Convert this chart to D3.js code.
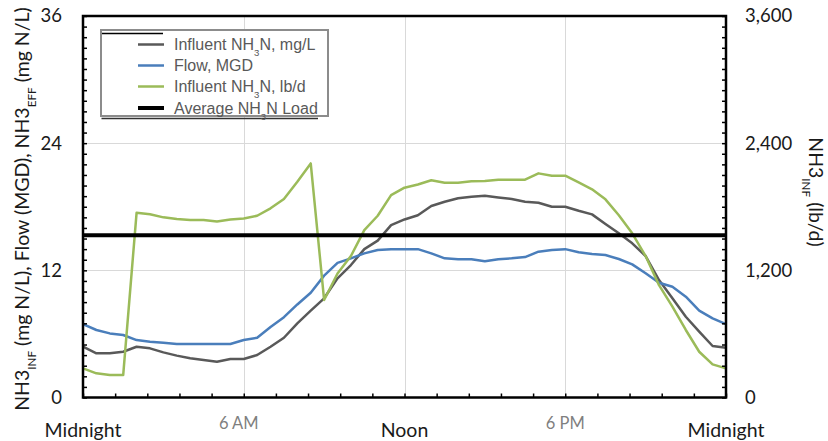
<!DOCTYPE html>
<html>
<head>
<meta charset="utf-8">
<script src="https://cdn.jsdelivr.net/npm/d3@7"></script>
<style>
  html, body { margin: 0; padding: 0; background: #fff; }
  svg { display: block; }
</style>
</head>
<body>
<svg id="chart" width="828" height="441"></svg>
<script>
// Time of day, hours after midnight (half-hour readings)
const hours = [0, 0.5, 1, 1.5, 2, 2.5, 3, 3.5, 4, 4.5, 5, 5.5, 6, 6.5, 7, 7.5, 8, 8.5, 9, 9.5,
  10, 10.5, 11, 11.5, 12, 12.5, 13, 13.5, 14, 14.5, 15, 15.5, 16, 16.5, 17, 17.5, 18, 18.5, 19, 19.5,
  20, 20.5, 21, 21.5, 22, 22.5, 23, 23.5, 24];

// Influent NH3-N concentration, mg/L (left axis)
const nh3Conc = [4.79, 4.17, 4.17, 4.32, 4.79, 4.64, 4.26, 3.95, 3.70, 3.54, 3.38, 3.63, 3.63, 4.01, 4.79, 5.64, 7.0, 8.19, 9.36, 11.25,
  12.5, 14.0, 14.8, 16.27, 16.8, 17.2, 18.07, 18.47, 18.8, 18.95, 19.04, 18.88, 18.73, 18.47, 18.38, 18.0, 18.0, 17.62, 17.28, 16.37,
  15.49, 14.55, 13.35, 11.08, 9.36, 7.62, 6.21, 4.86, 4.7];

// Flow, MGD (left axis)
const flow = [6.93, 6.37, 6.05, 5.90, 5.42, 5.27, 5.17, 5.05, 5.05, 5.05, 5.05, 5.05, 5.42, 5.64, 6.65, 7.58, 8.78, 9.89, 11.5, 12.7,
  13.13, 13.6, 13.92, 14.0, 14.0, 14.0, 13.6, 13.13, 13.04, 13.04, 12.85, 13.04, 13.13, 13.25, 13.76, 13.92, 14.0, 13.7, 13.54, 13.44,
  13.07, 12.56, 11.72, 10.83, 10.45, 9.51, 8.19, 7.47, 6.93];

// Influent NH3-N load, lb/d (right axis)
const nh3Load = [275, 228, 212, 212, 1743, 1730, 1700, 1684, 1675, 1675, 1660, 1680, 1690, 1715, 1785, 1873, 2036, 2209, 920, 1170,
  1335, 1580, 1715, 1910, 1980, 2010, 2050, 2027, 2027, 2040, 2043, 2055, 2055, 2055, 2115, 2093, 2093, 2030, 1964, 1870,
  1720, 1549, 1335, 1060, 857, 637, 432, 313, 275];

// Average NH3-N load, lb/d (right axis)
const avgLoad = 1530;

// Axis ticks
const leftTicks = [0, 12, 24, 36];
const rightTicks = [0, 1200, 2400, 3600];
const timeTicks = [0, 6, 12, 18, 24];
const timeLabels = ["Midnight", "6 AM", "Noon", "6 PM", "Midnight"];

const legendItems = [
  { parts: [["Influent NH"], ["3", "sub"], ["N, mg/L"]], color: "#595959", width: 2.5 },
  { parts: [["Flow, MGD"]], color: "#4a7ebb", width: 2.5 },
  { parts: [["Influent NH"], ["3", "sub"], ["N, lb/d"]], color: "#9bbb59", width: 2.5 },
  { parts: [["Average NH"], ["3", "sub"], ["N Load"]], color: "#000000", width: 4 }
];

const svg = d3.select("#chart");
const plot = { left: 83, right: 726, top: 16, bottom: 397.5 };
const axisFont = "Lato, 'Open Sans', sans-serif";

const x = d3.scaleLinear().domain([0, 24]).range([plot.left, plot.right]);
const yL = d3.scaleLinear().domain([0, 36]).range([plot.bottom, plot.top]);
const yR = d3.scaleLinear().domain([0, 3600]).range([plot.bottom, plot.top]);

// Gridlines
const grid = svg.append("g").attr("stroke", "#d9d9d9").attr("stroke-width", 1);
grid.selectAll(".gy").data(leftTicks.slice(1, -1)).join("line")
  .attr("x1", plot.left).attr("x2", plot.right)
  .attr("y1", d => Math.round(yL(d)) + 0.5).attr("y2", d => Math.round(yL(d)) + 0.5);
grid.selectAll(".gx").data(timeTicks.slice(1, -1)).join("line")
  .attr("y1", plot.top).attr("y2", plot.bottom)
  .attr("x1", d => Math.round(x(d)) + 0.5).attr("x2", d => Math.round(x(d)) + 0.5);

// Series lines
const lineL = d3.line().x((d, i) => x(hours[i])).y(d => yL(d));
const lineR = d3.line().x((d, i) => x(hours[i])).y(d => yR(d));

svg.append("path").datum(nh3Conc).attr("d", lineL)
  .attr("fill", "none").attr("stroke", "#595959").attr("stroke-width", 2.5).attr("stroke-linejoin", "round");
svg.append("path").datum(flow).attr("d", lineL)
  .attr("fill", "none").attr("stroke", "#4a7ebb").attr("stroke-width", 2.5).attr("stroke-linejoin", "round");
svg.append("path").datum(nh3Load).attr("d", lineR)
  .attr("fill", "none").attr("stroke", "#9bbb59").attr("stroke-width", 2.5).attr("stroke-linejoin", "round");

// Average load line
svg.append("line")
  .attr("x1", plot.left).attr("x2", plot.right)
  .attr("y1", yR(avgLoad)).attr("y2", yR(avgLoad))
  .attr("stroke", "#000").attr("stroke-width", 4);

// Axes with inside tick marks
const tickLen = 4;
const leftAxis = d3.axisLeft(yL).tickValues(d3.range(0, 37, 1)).tickSize(-tickLen).tickFormat("");
const rightAxis = d3.axisRight(yR).tickValues(d3.range(0, 3601, 100)).tickSize(-tickLen).tickFormat("");
const bottomAxis = d3.axisBottom(x).tickValues(d3.range(0, 24.01, 1.2)).tickSize(-tickLen).tickFormat("");

function styleAxis(g) {
  g.select(".domain").remove();
  g.selectAll(".tick line").attr("stroke", "#000").attr("stroke-width", 1.5);
}
svg.append("g").attr("transform", `translate(${plot.left},0)`).call(leftAxis).call(styleAxis);
svg.append("g").attr("transform", `translate(${plot.right},0)`).call(rightAxis).call(styleAxis);
svg.append("g").attr("transform", `translate(0,${plot.bottom})`).call(bottomAxis).call(styleAxis);

// Plot frame
svg.append("rect")
  .attr("x", plot.left).attr("y", plot.top)
  .attr("width", plot.right - plot.left).attr("height", plot.bottom - plot.top)
  .attr("fill", "none").attr("stroke", "#000").attr("stroke-width", 2.5);

// Tick labels
svg.append("g").selectAll("text").data(leftTicks).join("text")
  .attr("x", 62).attr("y", d => yL(d)).attr("dy", "0.35em")
  .attr("text-anchor", "end").attr("font-family", axisFont).attr("font-size", 18.5)
  .attr("fill", "#1a1a1a").text(d => d);
svg.append("g").selectAll("text").data(rightTicks).join("text")
  .attr("x", 745).attr("y", d => yR(d)).attr("dy", "0.35em")
  .attr("text-anchor", "start").attr("font-family", axisFont).attr("font-size", 18.5)
  .attr("fill", "#1a1a1a").text(d => d3.format(",")(d));
svg.append("g").selectAll("text").data(timeTicks).join("text")
  .attr("x", d => x(d) - (d === 6 ? 5 : 0))
  .attr("y", (d, i) => (i % 2 === 1 ? 429 : 437))
  .attr("text-anchor", "middle").attr("font-family", axisFont)
  .attr("font-size", (d, i) => (i % 2 === 1 ? 16.5 : 19.5))
  .attr("fill", (d, i) => (i % 2 === 1 ? "#7f7f7f" : "#1a1a1a"))
  .text((d, i) => timeLabels[i]);

// Axis titles with subscripts
function richText(sel, parts, size) {
  parts.forEach(p => {
    const t = sel.append("tspan").text(p[0]);
    if (p[1] === "sub") t.attr("font-size", size * 0.6).attr("baseline-shift", "sub");
  });
}
const titleSize = 19.5;
const leftTitle = svg.append("text")
  .attr("transform", "translate(29,209) rotate(-90)")
  .attr("text-anchor", "middle").attr("font-family", axisFont).attr("font-size", titleSize).attr("fill", "#1a1a1a");
richText(leftTitle, [["NH3"], ["INF", "sub"], [" (mg N/L), Flow (MGD), NH3"], ["EFF", "sub"], [" (mg N/L)"]], titleSize);

const rightTitle = svg.append("text")
  .attr("transform", "translate(809,192) rotate(90)")
  .attr("text-anchor", "middle").attr("font-family", axisFont).attr("font-size", titleSize).attr("fill", "#1a1a1a");
richText(rightTitle, [["NH3"], ["INF", "sub"], [" (lb/d)"]], titleSize);

// Legend
const lg = svg.append("g");
lg.append("rect").attr("x", 101).attr("y", 30).attr("width", 227).attr("height", 86)
  .attr("fill", "#fff").attr("stroke", "#8c8c8c").attr("stroke-width", 2);
lg.append("line").attr("x1", 101.5).attr("x2", 318).attr("y1", 118.5).attr("y2", 118.5)
  .attr("stroke", "#333").attr("stroke-width", 1.5);
lg.append("line").attr("x1", 102).attr("x2", 163).attr("y1", 33.5).attr("y2", 33.5)
  .attr("stroke", "#000").attr("stroke-width", 1.5);

const rowY = [44.5, 65.5, 86.5, 108];
legendItems.forEach((item, i) => {
  lg.append("line").attr("x1", 138).attr("x2", 164)
    .attr("y1", rowY[i]).attr("y2", rowY[i])
    .attr("stroke", item.color).attr("stroke-width", item.width);
  const t = lg.append("text").attr("x", 174).attr("y", rowY[i] + 5.5)
    .attr("font-family", "'Liberation Sans', Arial, sans-serif").attr("font-size", 16).attr("fill", "#595959");
  richText(t, item.parts, 16);
});
</script>
</body>
</html>
